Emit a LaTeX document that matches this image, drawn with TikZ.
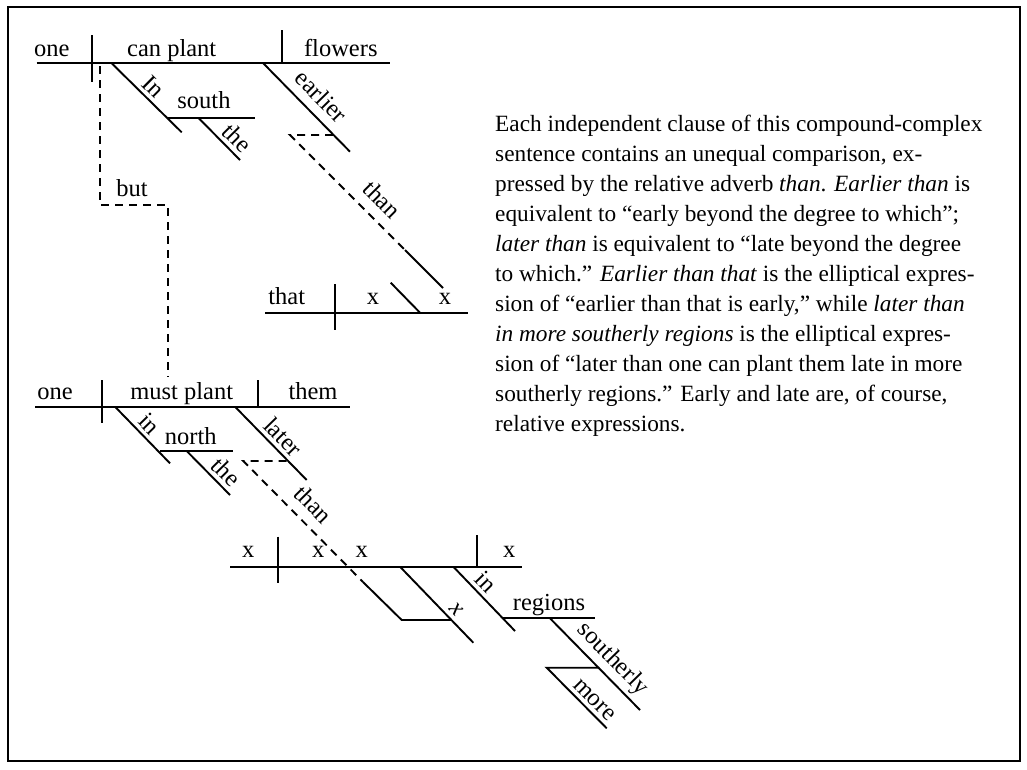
\documentclass[tikz,border=0pt]{standalone}
\usepackage{fontspec}
\setmainfont{Liberation Serif}
\begin{document}
\begin{tikzpicture}[x=1pt,y=-1pt,
  ln/.style={line width=1.9pt},
  dsh/.style={line width=1.9pt, dash pattern=on 8pt off 6pt},
  wd/.style={font=\fontsize{24.5}{26}\selectfont, inner sep=0pt, anchor=base},
  sl/.style={font=\fontsize{24.5}{26}\selectfont, sloped, above, inner sep=4pt},
  pl/.style={font=\fontsize{23.3}{27}\selectfont, anchor=base west, inner sep=0pt}]
\useasboundingbox (0,0) rectangle (1027,769);
\draw[line width=2pt] (7.5,7) rectangle (1019.5,760.5);

% ---------- first clause ----------
\draw[ln] (36.7,63.3) -- (390,63.3);
\draw[ln] (91.7,35) -- (91.7,81.7);
\draw[ln] (282,30) -- (282,63.3);
\node[wd] (one1) at (51.7,56.7) {one};
\node[wd] (canplant) at (171.7,56.7) {can plant};
\node[wd] (flowers) at (340.8,56.7) {flowers};
\draw[ln] (111.7,63.3) -- node[sl, pos=0.47] (In) {In} (181.7,132.3);
\draw[ln] (168.3,117.7) -- (255,117.7);
\node[wd] (south) at (204,108.3) {south};
\draw[ln] (198.3,117.7) -- node[sl, pos=0.7] (the1) {the} (240,160);
\draw[ln] (263.3,63.3) -- node[sl, pos=0.52, above=5pt] (earlier) {earlier} (350,151.7);
\draw[dsh] (333,135) -- (290,135) -- node[sl, pos=0.68, above=6pt] (than1) {than} (405,250);
\draw[ln] (405,250) -- (443,288);

% ---------- "that" clause ----------
\draw[ln] (265,312.7) -- (468,312.7);
\draw[ln] (335,284) -- (335,330);
\draw[ln] (390.7,282.7) -- (420,312.7);
\node[wd] (that) at (286.7,304) {that};
\node[wd] (x1) at (373,304) {x};
\node[wd] (x2) at (445,304) {x};

% ---------- but ----------
\draw[dsh] (100,66) -- (100,205) -- (168,205) -- (168,377);
\node[wd] (but) at (132,196.7) {but};

% ---------- second clause ----------
\draw[ln] (35,406.7) -- (350,406.7);
\draw[ln] (101.7,380) -- (101.7,423);
\draw[ln] (257.7,380) -- (257.7,406.7);
\node[wd] (one2) at (55,399.3) {one};
\node[wd] (mustplant) at (181.7,399.3) {must plant};
\node[wd] (them) at (313,399.3) {them};
\draw[ln] (115,406.7) -- node[sl, pos=0.46] (in1) {in} (170,463.3);
\draw[ln] (160,451) -- (233.3,451);
\node[wd] (north) at (190.8,444.3) {north};
\draw[ln] (186.7,451) -- node[sl, pos=0.69] (the2) {the} (230,495);
\draw[ln] (235,406.7) -- node[sl, pos=0.54] (later) {later} (306.7,480);
\draw[dsh] (286.7,461) -- (243.3,461) -- node[sl, pos=0.47, above=6pt] (than2) {than} (363,582);
\draw[ln] (363,582) -- (401.7,620) -- (451.5,620);

% ---------- lower clause ----------
\draw[ln] (230,566.7) -- (521.7,566.7);
\draw[ln] (278.3,536.7) -- (278.3,583.3);
\draw[ln] (476.7,535) -- (476.7,566.7);
\node[wd] (x3) at (248.3,557.3) {x};
\node[wd] (x4) at (318.3,557.3) {x};
\node[wd] (x5) at (361.7,557.3) {x};
\node[wd] (x6) at (509.3,557.3) {x};
\draw[ln] (400,566.7) -- node[sl, pos=0.66] (xi) {\itshape x} (473.3,642.7);
\draw[ln] (453.3,566.7) -- node[sl, pos=0.38] (in2) {in} (515,631);
\draw[ln] (503.3,618.3) -- (595,618.3);
\node[wd] (regions) at (549,610) {regions};
\draw[ln] (550,618.3) -- node[sl, pos=0.57] (southerly) {southerly} (640,710);
\draw[ln] (599.4,667.7) -- (546.7,667.7) -- node[sl, pos=0.66] (more) {more} (606.7,728.3);

% ---------- paragraph ----------
\node[pl] (p1) at (495,131.7) {Each independent clause of this compound-complex};
\node[pl] (p2) at (495,161.7) {sentence contains an unequal comparison, ex-};
\node[pl] (p3) at (495,191.7) {pressed by the relative adverb \textit{than}. \textit{Earlier than} is};
\node[pl] (p4) at (495,221.7) {equivalent to “early beyond the degree to which”;};
\node[pl] (p5) at (495,251.7) {\textit{later than} is equivalent to “late beyond the degree};
\node[pl] (p6) at (495,281.7) {to which.” \textit{Earlier than that} is the elliptical expres-};
\node[pl] (p7) at (495,311.7) {sion of “earlier than that is early,” while \textit{later than}};
\node[pl] (p8) at (495,341.7) {\textit{in more southerly regions} is the elliptical expres-};
\node[pl] (p9) at (495,371.7) {sion of “later than one can plant them late in more};
\node[pl] (p10) at (495,401.7) {southerly regions.” Early and late are, of course,};
\node[pl] (p11) at (495,431.7) {relative expressions.};
\end{tikzpicture}
\end{document}
